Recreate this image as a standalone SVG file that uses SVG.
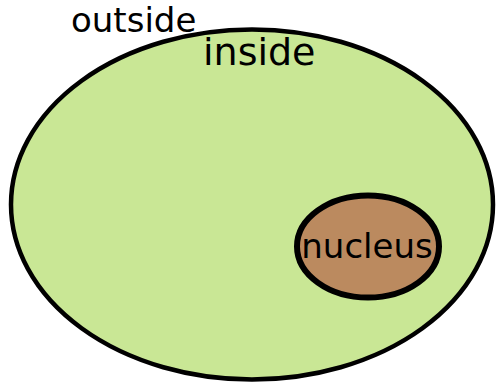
<svg xmlns="http://www.w3.org/2000/svg" width="496" height="383" viewBox="0 0 496 383">
<style>
text{font-family:"DejaVu Sans",sans-serif;fill:#000}
.cell{fill:#c9e795;stroke:#000;stroke-width:4.5}
.nuc{fill:#bb8a5f;stroke:#000;stroke-width:6}
</style>
<rect width="496" height="383" fill="#fff"/>
<text x="71" y="32" font-size="34">outside</text>
<g id="cell">
<ellipse class="cell" cx="252" cy="204.5" rx="241" ry="175"/>
<text x="203" y="65" font-size="38">inside</text>
</g>
<g id="nucleus">
<ellipse class="nuc" cx="368" cy="246.5" rx="71" ry="51"/>
<text x="367" y="258" font-size="34" text-anchor="middle">nucleus</text>
</g>
<g id="connectors"/>
</svg>
